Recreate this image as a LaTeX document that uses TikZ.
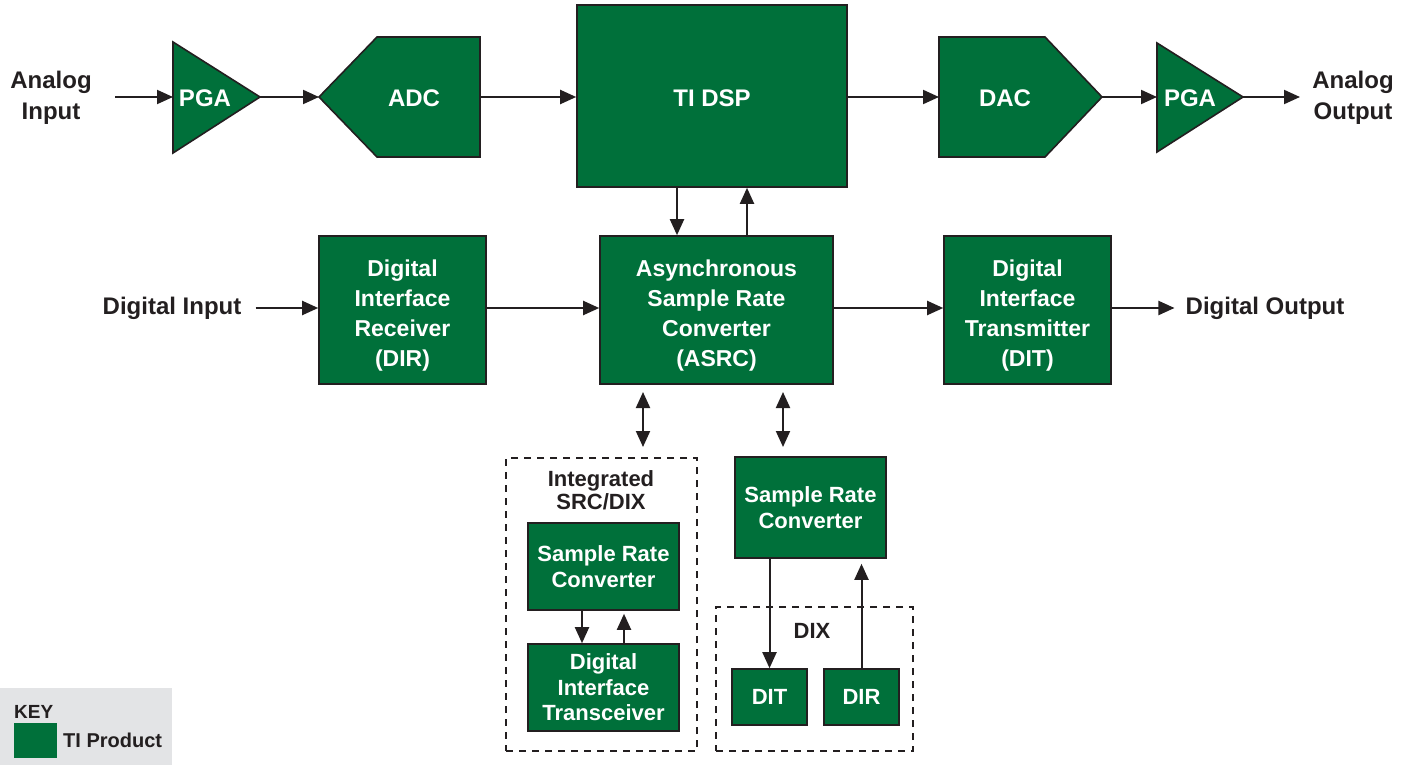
\documentclass[tikz,border=0pt]{standalone}
\usepackage{fontspec}
\setmainfont{Liberation Sans}
\usetikzlibrary{arrows.meta}
\definecolor{tigreen}{RGB}{0,112,58}
\definecolor{ink}{RGB}{35,31,32}
\definecolor{keygray}{RGB}{227,228,230}
\begin{document}
\begin{tikzpicture}[x=1pt,y=-1pt,
  blk/.style={draw=ink,line width=1.6pt,fill=tigreen,text=white,font=\fontsize{23}{30}\selectfont\bfseries,align=center,inner sep=0pt},
  smallblk/.style={blk,font=\fontsize{22}{25.5}\selectfont\bfseries},
  shp/.style={draw=ink,line width=1.6pt,fill=tigreen},
  intext/.style={text=white,font=\fontsize{24}{30}\selectfont\bfseries,inner sep=0pt,align=center},
  btext/.style={text=white,font=\fontsize{23}{30}\selectfont\bfseries,inner sep=0pt,align=center},
  lbl/.style={text=ink,font=\fontsize{24}{31}\selectfont\bfseries,align=center,inner sep=0pt},
  slbl/.style={text=ink,font=\fontsize{22}{23}\selectfont\bfseries,align=center,inner sep=0pt},
  arr/.style={draw=ink,line width=2pt,-{Triangle[length=16pt,width=14pt]}},
  darr/.style={draw=ink,line width=2pt,{Triangle[length=16pt,width=14pt]}-{Triangle[length=16pt,width=14pt]}},
  dbox/.style={draw=ink,line width=2pt,dash pattern=on 7pt off 6pt,inner sep=0pt}
]
\useasboundingbox (0,0) rectangle (1407,765);

% ---- top row shapes
\draw[shp] (173,42) -- (260,97) -- (173,153) -- cycle;
\coordinate (pga1in) at (173,97);
\coordinate (pga1out) at (260,97);
\node[intext] (pga1t) at (205,98) {PGA};

\draw[shp] (319,97) -- (377,37) -- (480,37) -- (480,157) -- (377,157) -- cycle;
\coordinate (adcin) at (319,97);
\coordinate (adcout) at (480,97);
\node[intext] (adct) at (414,98) {ADC};

\node[blk,minimum width=270pt,minimum height=182pt,font=\fontsize{24}{30}\selectfont\bfseries] (dsp) at (712,96) {};
\node[intext] (dspt) at (712,98) {TI DSP};

\draw[shp] (939,37) -- (1045,37) -- (1102,97) -- (1045,157) -- (939,157) -- cycle;
\coordinate (dacin) at (939,97);
\coordinate (dacout) at (1102,97);
\node[intext] (dact) at (1005,98) {DAC};

\draw[shp] (1157,43) -- (1243,97) -- (1157,152) -- cycle;
\coordinate (pga2in) at (1157,97);
\coordinate (pga2out) at (1243,97);
\node[intext] (pga2t) at (1190,98) {PGA};

\node[lbl] (ain) at (51,98) {Analog\\Input};
\node[lbl] (aout) at (1353,98) {Analog\\Output};
\coordinate (ainend) at (115,97);
\coordinate (aoutend) at (1300,97);

\draw[arr] (ainend) -- (pga1in);
\draw[arr] (pga1out) -- (adcin);
\draw[arr] (adcout) -- (dsp.west |- adcout);
\draw[arr] (dsp.east |- dacin) -- (dacin);
\draw[arr] (dacout) -- (pga2in);
\draw[arr] (pga2out) -- (aoutend);

% ---- middle row
\node[blk,minimum width=167pt,minimum height=148pt] (dir) at (402.5,310) {};
\node[btext] (dirt) at (402.5,316) {Digital\\Interface\\Receiver\\(DIR)};
\node[blk,minimum width=233pt,minimum height=148pt] (asrc) at (716.5,310) {};
\node[btext] (asrct) at (716.5,316) {Asynchronous\\Sample Rate\\Converter\\(ASRC)};
\node[blk,minimum width=167pt,minimum height=148pt] (dit) at (1027.5,310) {};
\node[btext] (ditt) at (1027.5,316) {Digital\\Interface\\Transmitter\\(DIT)};

\node[lbl] (din) at (172,308) {Digital Input};
\node[lbl] (dout) at (1265,308) {Digital Output};

\draw[arr] ([xshift=14pt]din.east) -- (dir.west |- din.east);
\draw[arr] (dir.east |- din.east) -- (asrc.west |- din.east);
\draw[arr] (asrc.east |- din.east) -- (dit.west |- din.east);
\draw[arr] (dit.east |- din.east) -- ([xshift=-11pt]dout.west);

\draw[arr] ([xshift=-35pt]dsp.south) -- ([xshift=-35pt]dsp.south |- asrc.north);
\draw[arr] ([xshift=35pt]dsp.south |- asrc.north) -- ([xshift=35pt]dsp.south);

% ---- bottom
\node[dbox,minimum width=191pt,minimum height=293pt] (integ) at (601.5,604.5) {};
\node[slbl] (integt) at (601,490) {Integrated\\SRC/DIX};
\node[smallblk,minimum width=151pt,minimum height=87pt] (src1) at (603.5,566.5) {Sample Rate\\Converter};
\node[smallblk,minimum width=151pt,minimum height=87pt] (xcvr) at (603.5,687.5) {Digital\\Interface\\Transceiver};
\draw[arr] (src1.south -| 582,0) -- (xcvr.north -| 582,0);
\draw[arr] (xcvr.north -| 624,0) -- ([yshift=-3pt]src1.south -| 624,0);

\node[smallblk,minimum width=151pt,minimum height=101pt] (src2) at (810.5,507.5) {Sample Rate\\Converter};
\node[dbox,minimum width=197pt,minimum height=144pt] (dix) at (814.5,679) {};
\node[slbl] (dixt) at (812,631) {DIX};
\node[smallblk,minimum width=75pt,minimum height=56pt] (dit2) at (769.5,697) {DIT};
\node[smallblk,minimum width=75pt,minimum height=56pt] (dir2) at (861.5,697) {DIR};
\draw[arr] (dit2.north |- src2.south) -- (dit2.north);
\draw[arr] (dir2.north) -- ([yshift=-5pt]dir2.north |- src2.south);

\coordinate (d1a) at (643,392);
\coordinate (d1b) at (643,447);
\coordinate (d2a) at (783,392);
\coordinate (d2b) at (783,447);
\draw[darr] (d1a) -- (d1b);
\draw[darr] (d2a) -- (d2b);

% ---- key
\node[fill=keygray,minimum width=172pt,minimum height=77pt,inner sep=0pt] (key) at (86,726.5) {};
\node[text=ink,font=\fontsize{19}{20}\selectfont\bfseries,inner sep=0pt,anchor=west] (keyt) at (14,712) {KEY};
\node[fill=tigreen,minimum width=43pt,minimum height=35pt,inner sep=0pt] (keysq) at (35.5,740.5) {};
\node[text=ink,font=\fontsize{20}{21}\selectfont\bfseries,inner sep=0pt,anchor=west] (keyp) at (63,740) {TI Product};
\end{tikzpicture}
\end{document}
